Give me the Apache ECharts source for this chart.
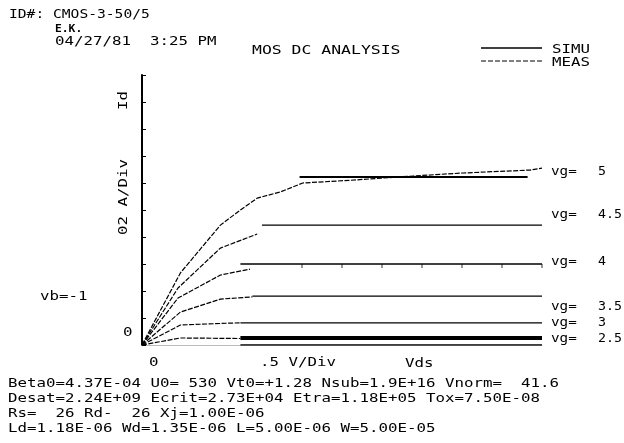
<!DOCTYPE html>
<html>
<head>
<meta charset="utf-8">
<script src="https://cdn.jsdelivr.net/npm/echarts@6/dist/echarts.min.js"></script>
<style>
  html, body { margin: 0; padding: 0; background: #fff; }
  #chart { width: 624px; height: 443px; }
</style>
</head>
<body>
<div id="chart"></div>
<script>
// measured curves (Vds in V, Id in divisions)
var meas5 = [[0, 0], [0.48, 2.67], [0.98, 4.44], [1.23, 5.0], [1.44, 5.44], [1.73, 5.67], [2.01, 6.0], [2.6, 6.1], [3.39, 6.26], [4.01, 6.37], [4.85, 6.48], [5.0, 6.55]]
var meas45 = [[0, 0], [0.45, 2.11], [0.98, 3.59], [1.44, 4.11]]
var meas4 = [[0, 0], [0.45, 1.74], [0.98, 2.59], [1.35, 2.81]]
var meas35 = [[0, 0], [0.48, 1.22], [0.98, 1.7], [1.38, 1.78]]
var meas3 = [[0, 0], [0.48, 0.74], [1.1, 0.81], [1.23, 0.82]]
var meas25 = [[0, 0], [0.48, 0.26], [1.23, 0.24]]

// simulated (saturation) lines
var sim5 = [[1.97, 6.22], [4.82, 6.22]]
var sim45 = [[1.5, 4.44], [5.0, 4.44]]
var sim4 = [[1.23, 3.0], [5.0, 3.0]]
var sim35 = [[1.38, 1.81], [5.0, 1.81]]
var sim3 = [[1.23, 0.82], [5.0, 0.82]]
var sim25 = [[1.23, 0.26], [5.0, 0.26]]
var zeroLine = [[1.23, 0], [5.0, 0]]

var tickMarks = [[2, 3], [2.5, 3], [3, 3], [3.5, 3], [4, 3], [4.5, 3], [5, 3]]

var vgValues = ['5', '4.5', '4', '3.5', '3', '2.5']
var vgLabelY = [172, 215, 262, 307, 323, 339]

var paramLines = [
  'Beta0=4.37E-04 U0= 530 Vt0=+1.28 Nsub=1.9E+16 Vnorm=  41.6',
  'Desat=2.24E+09 Ecrit=2.73E+04 Etra=1.18E+05 Tox=7.50E-08',
  'Rs=  26 Rd-  26 Xj=1.00E-06',
  'Ld=1.18E-06 Wd=1.35E-06 L=5.00E-06 W=5.00E-05'
]

var MONO = '"DejaVu Sans Mono", "Liberation Mono", monospace'
var FONT = '12px ' + MONO
var ADV = 9.5 // plotter character pitch in px

var measureCtx = document.createElement('canvas').getContext('2d')
function fitScale(s, font, adv) {
  measureCtx.font = font
  var w = measureCtx.measureText(s).width
  return w > 0 ? (s.length * adv) / w : 1
}

function txt(x, y, s, opts) {
  opts = opts || {}
  var font = opts.font || FONT
  return {
    type: 'text',
    x: x,
    y: y,
    rotation: opts.rotation || 0,
    scaleX: fitScale(s, font, opts.adv || ADV),
    style: {
      text: s,
      font: font,
      fill: '#000',
      align: 'left',
      verticalAlign: 'middle',
      textAlign: 'left',
      textVerticalAlign: 'middle'
    }
  }
}

function meas(d) {
  return {
    name: 'MEAS',
    type: 'line',
    data: d,
    symbol: 'none',
    lineStyle: { color: '#000', width: 1.2, type: [5, 1.5] }
  }
}
function sim(d, w) {
  return {
    name: 'SIMU',
    type: 'line',
    data: d,
    symbol: 'none',
    lineStyle: { color: '#000', width: w || 1.3, type: 'solid' }
  }
}

var graphics = [
  txt(9, 15, 'ID#: CMOS-3-50/5', { adv: 8.8 }),
  txt(55, 29, 'E.K.', { font: 'bold 10px ' + MONO, adv: 6.8 }),
  txt(55, 42, '04/27/81  3:25 PM'),
  txt(252, 51, 'MOS DC ANALYSIS', { adv: 9.9 }),
  txt(40, 297, 'vb=-1'),
  txt(123, 333, '0'),
  txt(149, 363, '0'),
  txt(260, 363, '.5 V/Div'),
  txt(405, 364, 'Vds'),
  txt(124, 110, 'Id', { rotation: Math.PI / 2 }),
  txt(124, 235, '02 A/Div', { rotation: Math.PI / 2 }),
  // legend
  { type: 'line', shape: { x1: 481, y1: 48, x2: 542, y2: 48 }, style: { stroke: '#000', lineWidth: 1.3 } },
  { type: 'line', shape: { x1: 481, y1: 61, x2: 542, y2: 61 }, style: { stroke: '#000', lineWidth: 1.2, lineDash: [5, 2] } },
  txt(552, 50, 'SIMU'),
  txt(552, 63, 'MEAS')
]
vgValues.forEach(function (v, i) {
  graphics.push(txt(551, vgLabelY[i], 'vg=', { adv: 8.6 }))
  graphics.push(txt(598, vgLabelY[i], v, { adv: 8 }))
})
paramLines.forEach(function (s, i) {
  graphics.push(txt(8, 384 + i * 15, s))
})

var chart = echarts.init(document.getElementById('chart'))
var option = {
  animation: false,
  backgroundColor: '#fff',
  color: ['#000'],
  grid: { left: 142, top: 75, width: 400, height: 270, containLabel: false },
  xAxis: {
    type: 'value',
    min: 0,
    max: 5,
    interval: 0.5,
    axisLine: { show: true, lineStyle: { color: '#bbb', width: 1 } },
    axisTick: { show: false },
    axisLabel: { show: false },
    splitLine: { show: false }
  },
  yAxis: {
    type: 'value',
    min: 0,
    max: 10,
    interval: 1,
    axisLine: { show: true, lineStyle: { color: '#000', width: 2 } },
    axisTick: { show: true, inside: true, length: 4, lineStyle: { color: '#000', width: 1 } },
    axisLabel: { show: false },
    splitLine: { show: false }
  },
  series: [
    sim(sim5, 2),
    meas(meas5),
    meas(meas45),
    meas(meas4),
    meas(meas35),
    meas(meas3),
    meas(meas25),
    sim(sim45),
    sim(sim4),
    sim(sim35),
    sim(sim3),
    sim(sim25, 4),
    sim(zeroLine),
    {
      type: 'scatter',
      data: tickMarks,
      symbol: 'rect',
      symbolSize: [1, 4],
      symbolOffset: [0, 2],
      itemStyle: { color: '#000' },
      silent: true
    }
  ],
  graphic: graphics
}
chart.setOption(option)
</script>
</body>
</html>
